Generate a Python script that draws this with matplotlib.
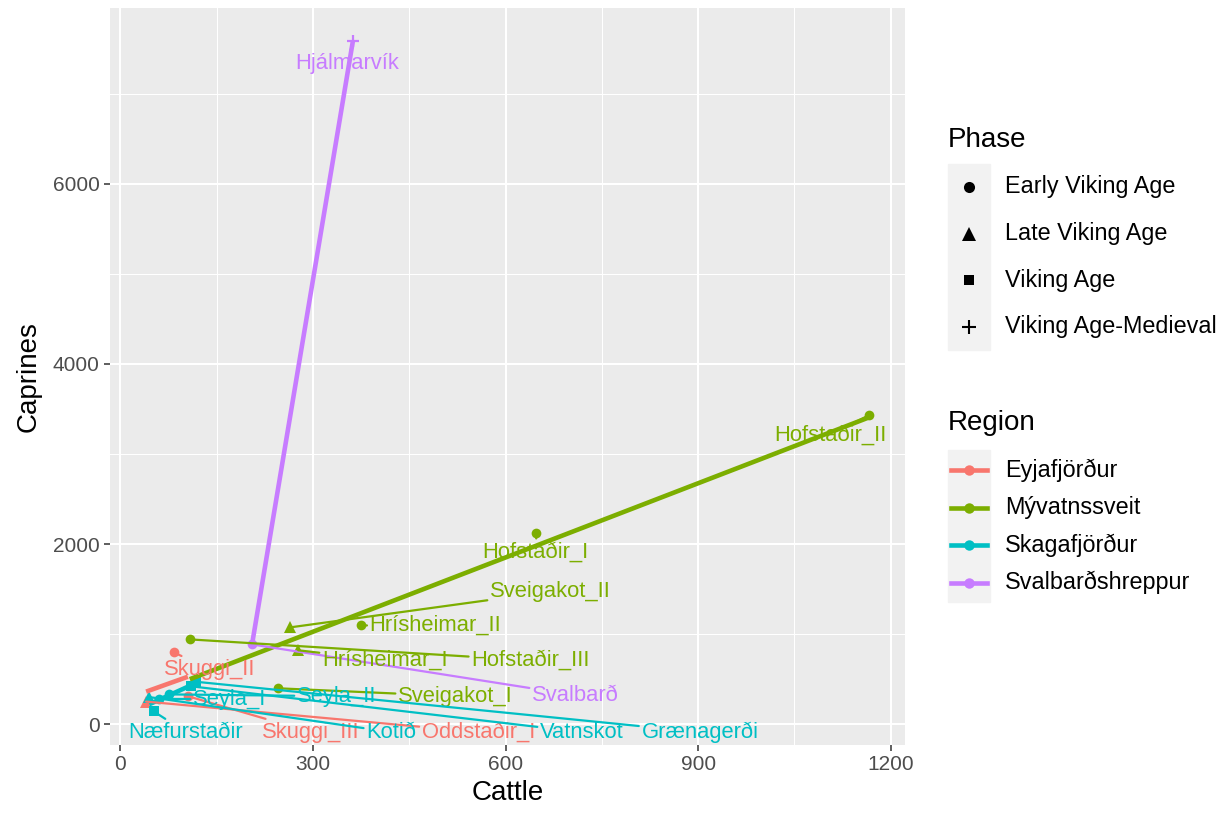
import numpy as np
import matplotlib
matplotlib.use("Agg")
import matplotlib.pyplot as plt
from matplotlib.lines import Line2D
from matplotlib.patches import Rectangle

plt.rcParams['font.family'] = ['Liberation Sans', 'DejaVu Sans']

# --- data -----------------------------------------------------------------
sites = ["Hjálmarvík", "Svalbarð",
         "Hofstaðir_II", "Hofstaðir_I", "Sveigakot_II", "Hrísheimar_II",
         "Hrísheimar_I", "Hofstaðir_III", "Sveigakot_I",
         "Skuggi_II", "Skuggi_III", "Oddstaðir_I",
         "Næfurstaðir", "Seyla_I", "Seyla_II", "Kotið", "Vatnskot", "Grænagerði"]
region = ["Svalbarðshreppur", "Svalbarðshreppur",
          "Mývatnssveit", "Mývatnssveit", "Mývatnssveit", "Mývatnssveit",
          "Mývatnssveit", "Mývatnssveit", "Mývatnssveit",
          "Eyjafjörður", "Eyjafjörður", "Eyjafjörður",
          "Skagafjörður", "Skagafjörður", "Skagafjörður", "Skagafjörður",
          "Skagafjörður", "Skagafjörður"]
phase = ["Viking Age-Medieval", "Early Viking Age",
         "Early Viking Age", "Early Viking Age", "Late Viking Age", "Early Viking Age",
         "Late Viking Age", "Early Viking Age", "Early Viking Age",
         "Early Viking Age", "Early Viking Age", "Late Viking Age",
         "Viking Age", "Early Viking Age", "Early Viking Age", "Late Viking Age",
         "Viking Age", "Viking Age"]
cattle = [362, 205, 1166, 648, 264, 375, 277, 108, 245,
          83, 105, 40, 52, 60, 75, 45, 110, 118]
caprines = [7582, 885, 3431, 2125, 1074, 1096, 820, 941, 398,
            797, 310, 250, 140, 280, 330, 300, 420, 470]

region_names = ["Eyjafjörður", "Mývatnssveit", "Skagafjörður", "Svalbarðshreppur"]
phase_names = ["Early Viking Age", "Late Viking Age", "Viking Age", "Viking Age-Medieval"]

# repelled label positions (data units)
label_x = [353, 709, 1106, 647, 670, 491, 412, 639, 522,
           139, 297, 558, 102, 170, 337, 422, 719, 903]
label_y = [7338, 321, 3210, 1915, 1472, 1096, 708, 708, 310,
           609, -89, -89, -89, 277, 310, -89, -89, -89]

# --- style ----------------------------------------------------------------
region_colors = dict(zip(region_names, ["#F8766D", "#7CAE00", "#00BFC4", "#C77CFF"]))
phase_markers = dict(zip(phase_names, ["o", "^", "s", "+"]))
marker_size = {"o": 7, "^": 8.5, "s": 6.5, "+": 9}

W, H = 1226, 816
fig = plt.figure(figsize=(W / 100, H / 100), dpi=100)
ax = fig.add_axes([110 / W, 1 - 745 / H, 795 / W, 737 / H])
ax.set_facecolor("#EBEBEB")
for s in ax.spines.values():
    s.set_visible(False)

cattle = np.array(cattle, float)
caprines = np.array(caprines, float)

# points
for i in range(len(sites)):
    m = phase_markers[phase[i]]
    c = region_colors[region[i]]
    ax.plot(cattle[i], caprines[i], marker=m, color=c, ms=marker_size[m],
            mew=1.6 if m == "+" else 0, ls="none", zorder=3)

# linear fits per region
for r in region_names:
    idx = [i for i in range(len(sites)) if region[i] == r]
    x = cattle[idx]
    y = caprines[idx]
    k, b = np.polyfit(x, y, 1)
    xs = np.array([x.min(), x.max()])
    ax.plot(xs, k * xs + b, color=region_colors[r], lw=3.3, zorder=4,
            solid_capstyle="butt")

# labels with segments
for i in range(len(sites)):
    c = region_colors[region[i]]
    ax.annotate(sites[i], xy=(cattle[i], caprines[i]), xytext=(label_x[i], label_y[i]),
                ha="center", va="center", fontsize=15.8, color=c, zorder=5,
                arrowprops=dict(arrowstyle="-", color=c, lw=1.6,
                                shrinkA=0, shrinkB=0))

# ggplot-style expansion of 5%
xr = cattle.max() - cattle.min()
yr = caprines.max() - caprines.min()
ax.set_xlim(cattle.min() - 0.05 * xr, cattle.max() + 0.05 * xr)
ax.set_ylim(caprines.min() - 0.05 * yr, caprines.max() + 0.05 * yr)

ax.set_xticks([0, 300, 600, 900, 1200])
ax.set_yticks([0, 2000, 4000, 6000])
ax.set_xticks([150, 450, 750, 1050], minor=True)
ax.set_yticks([1000, 3000, 5000, 7000], minor=True)
ax.grid(which="major", color="white", lw=1.5)
ax.grid(which="minor", color="white", lw=0.75)
ax.set_axisbelow(True)
ax.tick_params(which="major", length=4.5, width=1.1, color="#333333",
               labelcolor="#4D4D4D", labelsize=15, pad=3)
ax.tick_params(which="minor", length=0)
ax.set_xlabel("Cattle", fontsize=20, labelpad=4)
ax.set_ylabel("Caprines", fontsize=20, labelpad=8)


# --- legends (ggplot-like, figure pixel positions) -----------------------
def fx(px):
    return px / W


def fy(py):
    return 1 - py / H


fig.text(fx(948), fy(140), "Phase", fontsize=20, va="center", ha="left")
fig.patches.append(Rectangle((fx(948), fy(350)), fx(42), (350 - 164) / H,
                             transform=fig.transFigure, color="#F2F2F2", zorder=0))
for j, p in enumerate(phase_names):
    yy = 187 + j * 46.5
    m = phase_markers[p]
    fig.add_artist(Line2D([fx(969)], [fy(yy)], marker=m, color="black", ls="none",
                          ms=marker_size[m] + 1, mew=1.5 if m == "+" else 0))
    fig.text(fx(1005), fy(yy), p, fontsize=16.8, va="center", ha="left")

fig.text(fx(948), fy(423), "Region", fontsize=20, va="center", ha="left")
fig.patches.append(Rectangle((fx(948), fy(602)), fx(42), (602 - 450) / H,
                             transform=fig.transFigure, color="#F2F2F2", zorder=0))
for j, r in enumerate(region_names):
    yy = 470 + j * 37.5
    c = region_colors[r]
    fig.add_artist(Line2D([fx(951), fx(987)], [fy(yy), fy(yy)], color=c, lw=3.3))
    fig.add_artist(Line2D([fx(969)], [fy(yy)], marker="o", color=c, ms=7.5, mew=0))
    fig.text(fx(1005), fy(yy), r, fontsize=16.8, va="center", ha="left")

fig.savefig("out.png", dpi=100)
